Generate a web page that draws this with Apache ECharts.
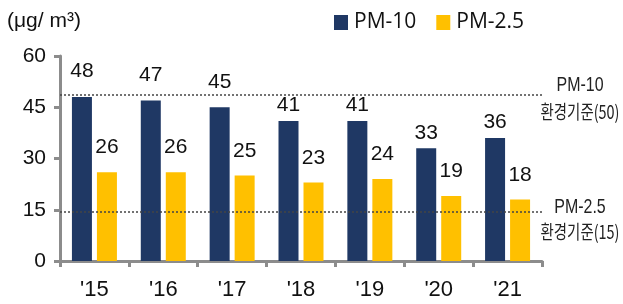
<!DOCTYPE html>
<html>
<head>
<meta charset="utf-8">
<script src="https://cdn.jsdelivr.net/npm/echarts@6/dist/echarts.min.js"></script>
<style>
  html, body { margin: 0; padding: 0; background: #fff; }
  #main { width: 623px; height: 304px; }
</style>
</head>
<body>
<div id="main"></div>
<script>
// 연도별 미세먼지 농도
var years = ["'15", "'16", "'17", "'18", "'19", "'20", "'21"];
var pm10 = [48, 47, 45, 41, 41, 33, 36];
var pm25 = [26, 26, 25, 23, 24, 19, 18];
var yTicks = { min: 0, max: 60, interval: 15 };
// 기준선 (그림에 그려진 위치)
var pm10Line = 48.6;
var pm25Line = 14.5;
var pm10Note = ['PM-10', '환경기준(50)'];
var pm25Note = ['PM-2.5', '환경기준(15)'];

var axisGray = '#8c8c8c';
var txtFont = 'Liberation Sans, Arial, sans-serif';

var chart = echarts.init(document.getElementById('main'));

var option = {
    animation: false,
    grid: { left: 60, right: 81, top: 56, bottom: 43 },
    legend: {
        left: 334, top: 12, padding: 0,
        itemWidth: 14, itemHeight: 15, itemGap: 20,
        icon: 'rect',
        textStyle: { fontSize: 21, color: '#111', fontFamily: 'Open Sans, sans-serif', padding: [0, 0, 0, 1] },
        data: ['PM-10', 'PM-2.5']
    },
    xAxis: {
        type: 'category',
        data: years,
        axisLine: { lineStyle: { color: axisGray, width: 3 } },
        axisTick: { show: true, length: 6, lineStyle: { color: axisGray, width: 3 } },
        axisLabel: { fontSize: 22, color: '#111', margin: 18, fontFamily: txtFont }
    },
    yAxis: {
        type: 'value',
        min: yTicks.min, max: yTicks.max, interval: yTicks.interval,
        axisLine: { show: true, lineStyle: { color: axisGray, width: 3 } },
        axisTick: { show: true, length: 6, lineStyle: { color: axisGray, width: 3 } },
        splitLine: { show: false },
        axisLabel: { fontSize: 21, color: '#111', margin: 14, fontFamily: txtFont }
    },
    series: [
        {
            name: 'PM-10', type: 'bar',
            barWidth: 20, barGap: '25%',
            itemStyle: { color: '#1f3864' },
            data: pm10.map(function (v) {
                // 기준선 위로 올라간 라벨은 조금 더 띄움
                return { value: v, label: { distance: v > 43 ? 15 : 5 } };
            }),
            label: { show: true, position: 'top', fontSize: 21, color: '#111', fontFamily: txtFont },
            markLine: {
                silent: true,
                symbol: 'none',
                z: 10,
                lineStyle: { color: '#444', type: [2, 2], width: 1.5 },
                label: { show: false },
                data: [{ yAxis: pm10Line }, { yAxis: pm25Line }]
            }
        },
        {
            name: 'PM-2.5', type: 'bar',
            barWidth: 20,
            itemStyle: { color: '#ffc000' },
            data: pm25,
            label: { show: true, position: 'top', distance: 14, fontSize: 21, color: '#111', fontFamily: txtFont }
        }
    ]
};

chart.setOption(option);

// 오른쪽 기준선 설명 (좁은 글꼴 느낌으로 가로 축소)
function note(text, y, cjk) {
    return {
        type: 'text', x: 580, y: y, scaleX: 0.76,
        style: {
            text: text, fontSize: cjk ? 19 : 21, fill: '#222',
            fontFamily: cjk ? 'Noto Sans CJK KR, sans-serif' : txtFont,
            align: 'center', verticalAlign: 'middle'
        }
    };
}
var y10 = chart.convertToPixel({ yAxisIndex: 0 }, pm10Line);
var y25 = chart.convertToPixel({ yAxisIndex: 0 }, pm25Line);

chart.setOption({
    graphic: [
        {
            type: 'text', left: 7, top: 11,
            style: { text: '(μg/ m³)', fontSize: 21, fill: '#111', fontFamily: txtFont }
        },
        note(pm10Note[0], y10 - 10, false),
        note(pm10Note[1], y10 + 17, true),
        note(pm25Note[0], y25 - 4, false),
        note(pm25Note[1], y25 + 20, true)
    ]
});
</script>
</body>
</html>
